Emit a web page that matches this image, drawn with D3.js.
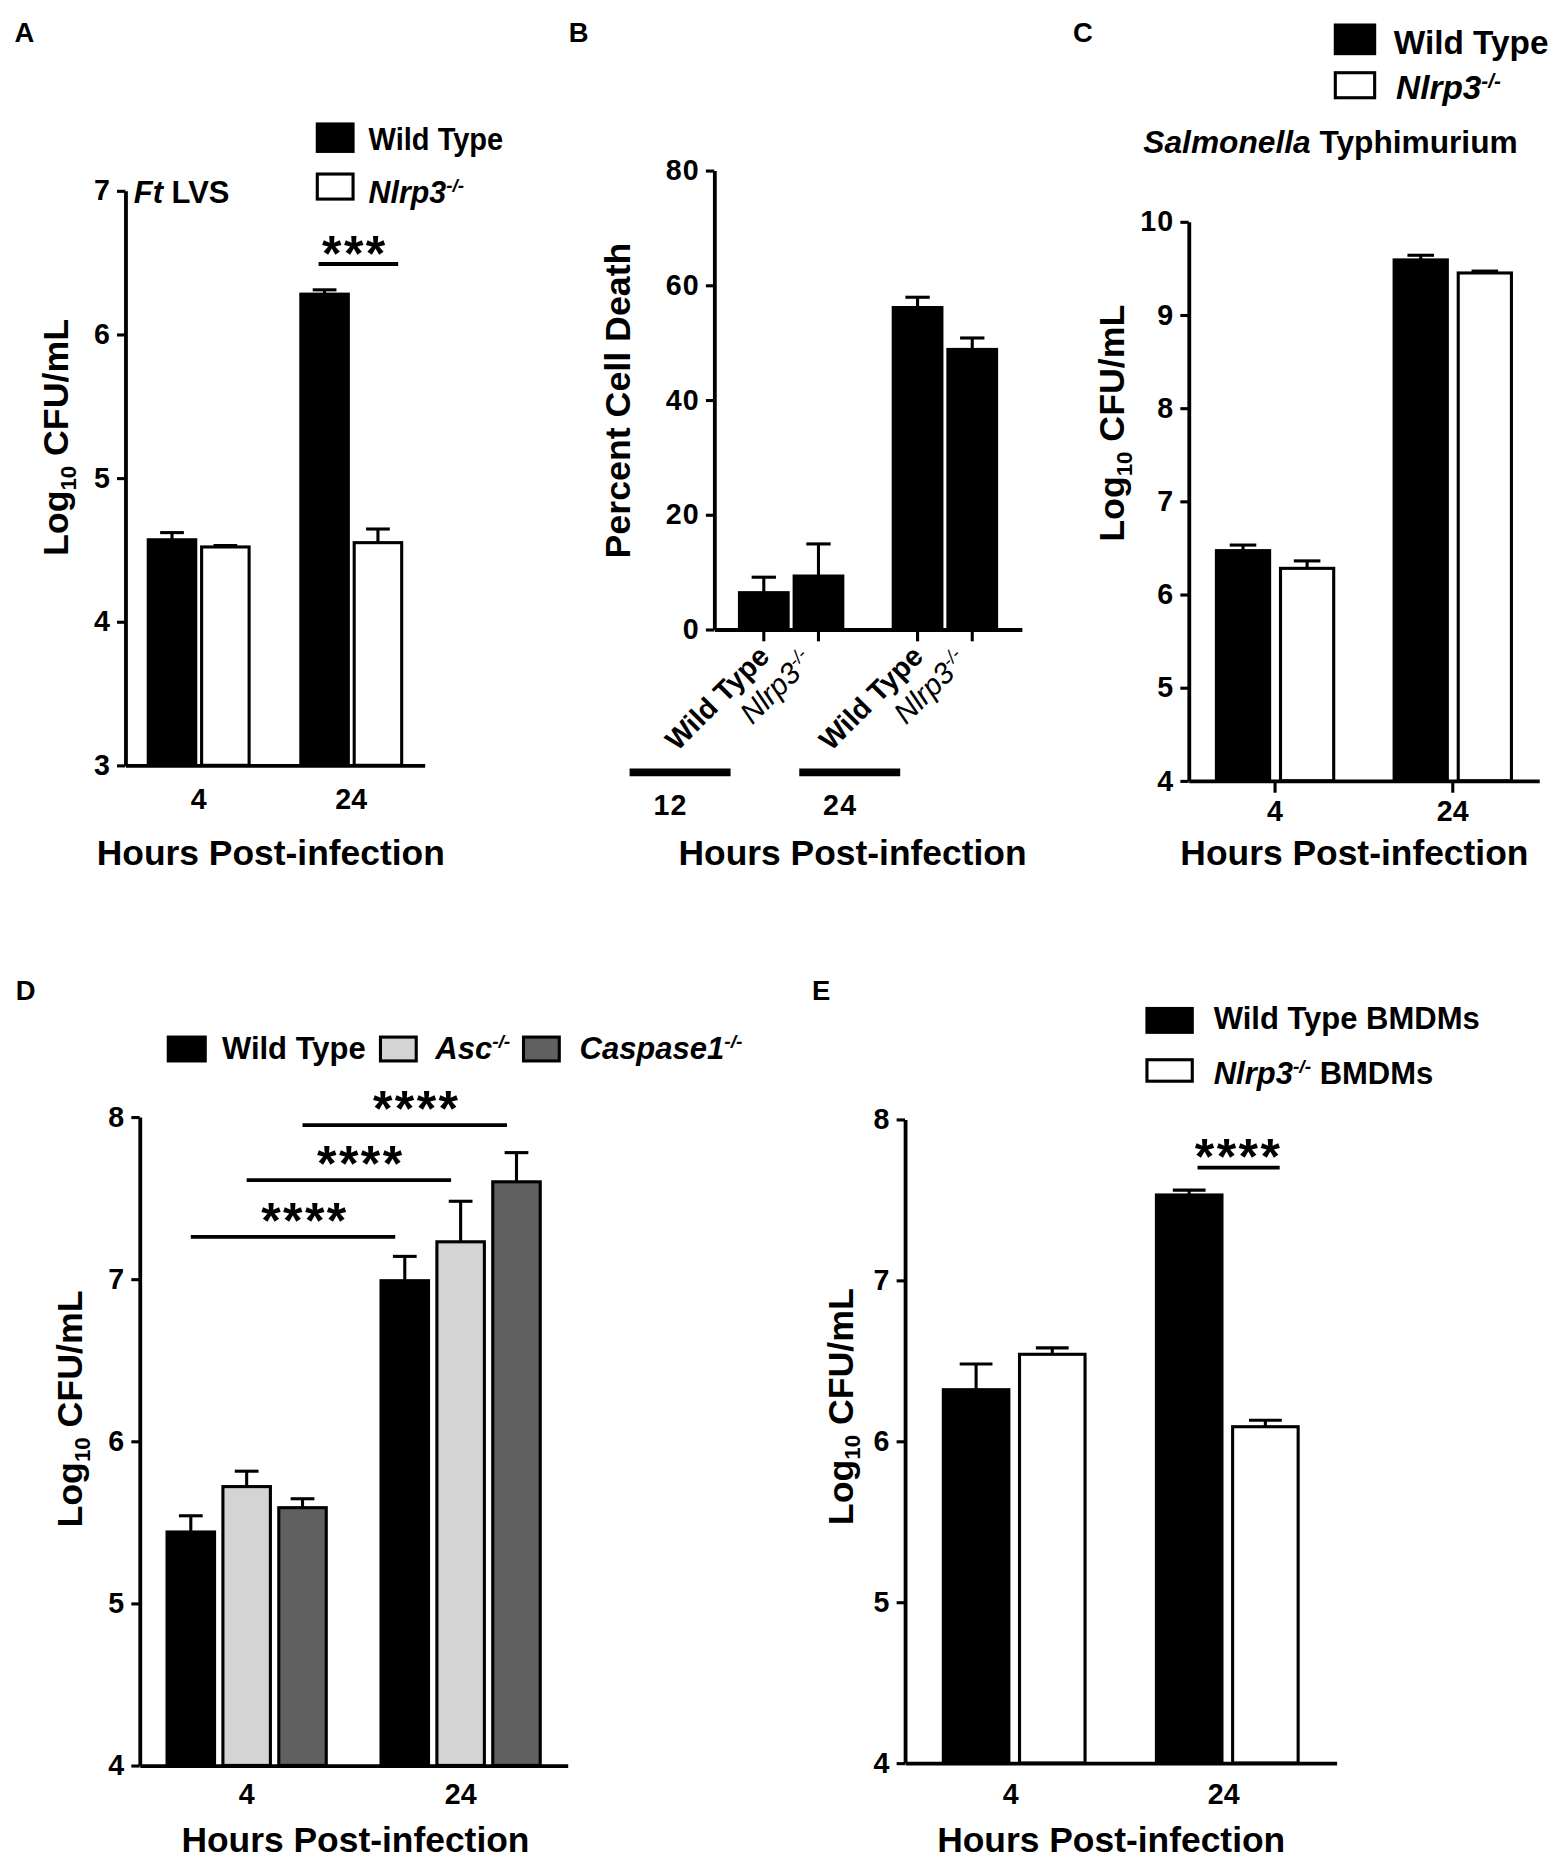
<!DOCTYPE html>
<html>
<head>
<meta charset="utf-8">
<script src="https://cdn.jsdelivr.net/npm/d3@7"></script>
<style>
  body { margin: 0; background: #fff; }
  svg { display: block; }
  text { font-family: "Liberation Sans", Arial, sans-serif; fill: #000; }
</style>
</head>
<body>
<svg id="fig"></svg>
<script>
// ---------- data ----------
// A: Ft LVS
const hoursA = ["4", "24"];
const cfuA = [[4.57, 4.52], [6.28, 4.55]];
const semA = [[0.05, 0.01], [0.03, 0.095]];
const ticksA = [3, 4, 5, 6, 7];
const sigA = [{ from: [1, 0], to: [1, 1], at: 6.49, label: "***" }];

// B: percent cell death
const hoursB = ["12", "24"];
const strainsB = ["Wild Type", "Nlrp3"];
const deathB = [[6.4, 9.3], [56.1, 48.8]];
const semB = [[2.7, 5.6], [1.8, 2.0]];
const ticksB = [0, 20, 40, 60, 80];

// C: Salmonella Typhimurium
const hoursC = ["4", "24"];
const cfuC = [[6.47, 6.28], [9.59, 9.45]];
const semC = [[0.06, 0.08], [0.05, 0.02]];
const ticksC = [4, 5, 6, 7, 8, 9, 10];

// D: Wild Type / Asc / Caspase1
const hoursD = ["4", "24"];
const cfuD = [[5.44, 5.72, 5.59], [6.99, 7.23, 7.60]];
const semD = [[0.10, 0.095, 0.055], [0.15, 0.25, 0.18]];
const ticksD = [4, 5, 6, 7, 8];
const sigD = [
  { from: [0, 0], to: [1, 0], at: 7.26, label: "****" },
  { from: [0, 1], to: [1, 1], at: 7.61, label: "****" },
  { from: [0, 2], to: [1, 2], at: 7.95, label: "****" }
];

// E: BMDMs
const hoursE = ["4", "24"];
const cfuE = [[6.32, 6.54], [7.53, 6.09]];
const semE = [[0.16, 0.04], [0.03, 0.04]];
const ticksE = [4, 5, 6, 7, 8];
const sigE = [{ from: [1, 0], to: [1, 1], at: 7.70, label: "****" }];

const xTitle = "Hours Post-infection";
const black = "#000", white = "#fff", light = "#d4d4d4", dark = "#606060";

// ---------- drawing ----------
const svg = d3.select("#fig")
  .attr("width", 1562).attr("height", 1862)
  .attr("viewBox", "0 0 1310 1562");

// writes a text made of parts: {t, i (italic), w (weight), sup, sub}
function rich(sel, parts, size) {
  let shift = 0;
  parts.forEach(p => {
    const target = p.sup ? -size * 0.34 : p.sub ? size * 0.22 : 0;
    const ts = sel.append("tspan").text(p.t).attr("dy", target - shift);
    shift = target;
    if (p.i) ts.attr("font-style", "italic");
    if (p.w) ts.attr("font-weight", p.w);
    if (p.sup || p.sub) ts.attr("font-size", size * 0.62);
  });
  return sel;
}

function label(x, y, parts, size, opts = {}) {
  const t = svg.append("text")
    .attr("x", x).attr("y", y)
    .attr("font-size", size)
    .attr("font-weight", opts.weight || "bold")
    .attr("text-anchor", opts.anchor || "start");
  if (opts.rotate) t.attr("transform", `rotate(${opts.rotate},${x},${y})`);
  if (opts.length) t.attr("textLength", opts.length).attr("lengthAdjust", "spacingAndGlyphs");
  if (opts.spacing) t.attr("letter-spacing", opts.spacing);
  return rich(t, parts, size);
}

const log10Label = [{ t: "Log" }, { t: "10", sub: true }, { t: " CFU/mL" }];

function barPanel(p) {
  const g = svg.append("g");
  const y = d3.scaleLinear().domain(p.domain).range([p.bottom, p.top]);
  const x = d3.scaleBand().domain(p.groups).range([p.left, p.right])
    .paddingInner(p.padIn).paddingOuter(p.padOut);
  const xs = d3.scaleBand().domain(d3.range(p.mean[0].length))
    .range([0, x.bandwidth()]).paddingInner(p.barPad);

  const rows = p.groups.flatMap((grp, gi) => p.mean[gi].map((m, si) => ({
    grp, gi, si, m, e: p.sem[gi][si],
    cx: x(grp) + xs(si) + xs.bandwidth() / 2
  })));

  // error bars (upper only)
  const err = g.append("g").attr("stroke", black).attr("stroke-width", 2.6);
  err.selectAll("line.v").data(rows).join("line")
    .attr("x1", d => d.cx).attr("x2", d => d.cx)
    .attr("y1", d => y(d.m)).attr("y2", d => y(d.m + d.e));
  err.selectAll("line.c").data(rows).join("line")
    .attr("x1", d => d.cx - xs.bandwidth() / 4).attr("x2", d => d.cx + xs.bandwidth() / 4)
    .attr("y1", d => y(d.m + d.e)).attr("y2", d => y(d.m + d.e));

  // bars
  g.append("g").selectAll("rect").data(rows).join("rect")
    .attr("x", d => x(d.grp) + xs(d.si))
    .attr("width", xs.bandwidth())
    .attr("y", d => y(d.m))
    .attr("height", d => y(p.domain[0]) - y(d.m))
    .attr("fill", d => p.fills[d.si])
    .attr("stroke", black).attr("stroke-width", 2.6);

  // y axis
  const ya = g.append("g").attr("transform", `translate(${p.left},0)`)
    .call(d3.axisLeft(y).tickValues(p.ticks).tickFormat(d3.format("d"))
      .tickSize(7).tickSizeOuter(0).tickPadding(5));
  ya.select(".domain").attr("stroke-width", 3.2);
  ya.selectAll(".tick line").attr("stroke-width", 2.6);
  ya.selectAll(".tick text").attr("font-size", p.tickFont).attr("font-weight", "bold")
    .attr("font-family", "Liberation Sans, Arial, sans-serif").attr("letter-spacing", 1);

  // x axis
  const xa = g.append("g").attr("transform", `translate(0,${p.bottom})`)
    .call(d3.axisBottom(x).tickSize(p.xTick).tickSizeOuter(0)
      .tickValues(p.xLabels ? p.groups : []));
  xa.select(".domain").attr("stroke-width", 3.2);
  xa.selectAll(".tick line").attr("stroke-width", 2.6);
  xa.selectAll(".tick text").attr("font-size", p.tickFont).attr("font-weight", "bold")
    .attr("font-family", "Liberation Sans, Arial, sans-serif")
    .attr("y", p.xLabelY - p.bottom).attr("dy", 0)
    .attr("dx", p.xLabelDx || 0);

  // significance brackets
  (p.sig || []).forEach(s => {
    const a = rows.find(r => r.gi === s.from[0] && r.si === s.from[1]);
    const b = rows.find(r => r.gi === s.to[0] && r.si === s.to[1]);
    const x1 = a.cx + p.sigDx[0], x2 = b.cx + p.sigDx[1], ly = y(s.at);
    g.append("line").attr("x1", x1).attr("x2", x2).attr("y1", ly).attr("y2", ly)
      .attr("stroke", black).attr("stroke-width", 3.2);
    g.append("text").attr("x", (x1 + x2) / 2 + p.starDx).attr("y", ly + 19 - p.starLift)
      .attr("text-anchor", "middle").attr("font-size", 42).attr("font-weight", "bold")
      .attr("letter-spacing", 2).text(s.label);
  });

  return { x, xs, y, rows };
}

function swatch(x, y, w, h, fill) {
  svg.append("rect").attr("x", x).attr("y", y).attr("width", w).attr("height", h)
    .attr("fill", fill).attr("stroke", black).attr("stroke-width", 2.6);
}

// ---------- panel A ----------
label(12, 35, [{ t: "A" }], 23);
barPanel({
  groups: hoursA, mean: cfuA, sem: semA, domain: [3, 7], ticks: ticksA,
  left: 105, right: 356, top: 160, bottom: 642,
  padIn: 0.339, padOut: 0.15, barPad: 0.11, fills: [black, white],
  xTick: 0, xLabels: true, xLabelY: 679, tickFont: 24,
  sig: sigA, sigDx: [-5, 17], starDx: -3, starLift: 13
});
label(112, 170, [{ t: "Ft", i: true }, { t: " LVS" }], 26);
swatch(266, 104, 30, 23, black);
swatch(266, 146, 30, 21, white);
label(309, 126, [{ t: "Wild Type" }], 27, { length: 113 });
label(309, 170, [{ t: "Nlrp3", i: true }, { t: "-/-", i: true, sup: true }], 26, { length: 80 });
label(57, 367, log10Label, 30, { anchor: "middle", rotate: -90 });
label(227, 726, [{ t: xTitle }], 29.5, { anchor: "middle", length: 292 });

// ---------- panel B ----------
label(477, 35, [{ t: "B" }], 23);
const pb = barPanel({
  groups: hoursB, mean: deathB, sem: semB, domain: [0, 80], ticks: ticksB,
  left: 599, right: 857, top: 143, bottom: 528,
  padIn: 0.328, padOut: 0.164, barPad: 0.11, fills: [black, black],
  xTick: 0, xLabels: false, xLabelY: 0, tickFont: 24
});
// ticks and rotated strain names under each bar
svg.append("g").selectAll("line").data(pb.rows).join("line")
  .attr("x1", d => d.cx).attr("x2", d => d.cx)
  .attr("y1", 528).attr("y2", 538)
  .attr("stroke", black).attr("stroke-width", 2.6);
pb.rows.forEach(d => {
  if (d.si === 0) {
    label(d.cx + 6, 552, [{ t: strainsB[0] }], 24, { anchor: "end", rotate: -45 });
  } else {
    label(d.cx - 3, 556, [{ t: strainsB[1], i: true }, { t: "-/-", i: true, sup: true }], 25,
      { anchor: "end", rotate: -45, weight: "normal" });
  }
});
// group brackets
const brB = d3.scaleBand().domain(hoursB).range([528, 755]).paddingInner(0.405);
svg.append("g").selectAll("line").data(hoursB).join("line")
  .attr("x1", d => brB(d)).attr("x2", d => brB(d) + brB.bandwidth())
  .attr("y1", 648).attr("y2", 648)
  .attr("stroke", black).attr("stroke-width", 6.5);
svg.append("g").selectAll("text").data(hoursB).join("text")
  .attr("x", d => brB(d) + brB.bandwidth() / 2 - 8).attr("y", 684)
  .attr("text-anchor", "middle").attr("font-size", 24).attr("font-weight", "bold")
  .attr("letter-spacing", 1)
  .text(d => d);
label(528, 336, [{ t: "Percent Cell Death" }], 30, { anchor: "middle", rotate: -90 });
label(715, 726, [{ t: xTitle }], 29.5, { anchor: "middle", length: 292 });

// ---------- panel C ----------
label(900, 35, [{ t: "C" }], 23);
barPanel({
  groups: hoursC, mean: cfuC, sem: semC, domain: [4, 10], ticks: ticksC,
  left: 997, right: 1291, top: 186, bottom: 655,
  padIn: 0.34, padOut: 0.156, barPad: 0.17, fills: [black, white],
  xTick: 10, xLabels: true, xLabelY: 689, tickFont: 24
});
swatch(1120, 21, 33, 24, black);
swatch(1120, 61, 33, 21, white);
label(1169, 45, [{ t: "Wild Type" }], 28);
label(1171, 83, [{ t: "Nlrp3", i: true }, { t: "-/-", i: true, sup: true }], 28);
label(959, 128, [{ t: "Salmonella", i: true }, { t: " Typhimurium" }], 26, { length: 314 });
label(943, 355, log10Label, 30, { anchor: "middle", rotate: -90 });
label(1136, 726, [{ t: xTitle }], 29.5, { anchor: "middle", length: 292 });

// ---------- panel D ----------
label(13, 839, [{ t: "D" }], 23);
barPanel({
  groups: hoursD, mean: cfuD, sem: semD, domain: [4, 8], ticks: ticksD,
  left: 117, right: 476, top: 937, bottom: 1481,
  padIn: 0.256, padOut: 0.128, barPad: 0.15, fills: [black, light, dark],
  xTick: 0, xLabels: true, xLabelY: 1513, tickFont: 24,
  sig: sigD, sigDx: [0, -8], starDx: 10, starLift: 18
});
swatch(141, 870, 31, 20, black);
swatch(319, 870, 30, 20, light);
swatch(439, 870, 30, 20, dark);
label(186, 888, [{ t: "Wild Type" }], 26);
label(365, 888, [{ t: "Asc", i: true }, { t: "-/-", i: true, sup: true }], 26);
label(486, 888, [{ t: "Caspase1", i: true }, { t: "-/-", i: true, sup: true }], 26);
label(69, 1182, log10Label, 30, { anchor: "middle", rotate: -90 });
label(298, 1554, [{ t: xTitle }], 29.5, { anchor: "middle", length: 292 });

// ---------- panel E ----------
label(681, 839, [{ t: "E" }], 23);
barPanel({
  groups: hoursE, mean: cfuE, sem: semE, domain: [4, 8], ticks: ticksE,
  left: 759, right: 1121, top: 939, bottom: 1479,
  padIn: 0.335, padOut: 0.18, barPad: 0.14, fills: [black, white],
  xTick: 0, xLabels: true, xLabelY: 1513, xLabelDx: -3, tickFont: 24,
  sig: sigE, sigDx: [7, 12], starDx: 0, starLift: 14
});
swatch(962, 846, 38, 20, black);
swatch(962, 889, 38, 18, white);
label(1018, 863, [{ t: "Wild Type BMDMs" }], 26);
label(1018, 909, [{ t: "Nlrp3", i: true }, { t: "-/-", i: true, sup: true }, { t: " BMDMs" }], 26);
label(715, 1180, log10Label, 30, { anchor: "middle", rotate: -90 });
label(932, 1554, [{ t: xTitle }], 29.5, { anchor: "middle", length: 292 });
</script>
</body>
</html>
